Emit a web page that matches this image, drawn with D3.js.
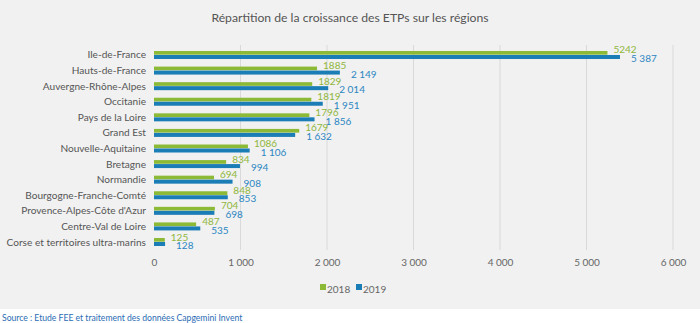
<!DOCTYPE html>
<html><head><meta charset="utf-8">
<script src="https://cdn.jsdelivr.net/npm/d3@7"></script>
<style>
html,body{margin:0;padding:0;background:#fff;}
svg{display:block;}
text{font-family:Lato,"Open Sans",sans-serif;}
</style></head>
<body><svg id="c" width="700" height="323"></svg>
<script>
const categories = ["Ile-de-France","Hauts-de-France","Auvergne-Rhône-Alpes","Occitanie","Pays de la Loire","Grand Est","Nouvelle-Aquitaine","Bretagne","Normandie","Bourgogne-Franche-Comté","Provence-Alpes-Côte d'Azur","Centre-Val de Loire","Corse et territoires ultra-marins"];
const values2018 = [5242,1885,1829,1819,1796,1679,1086,834,694,848,704,487,125];
const values2019 = [5387,2149,2014,1951,1856,1632,1106,994,908,853,698,535,128];
const seriesNames = ["2018","2019"];
const tickValues = [0,1000,2000,3000,4000,5000,6000];
const title = "Répartition de la croissance des ETPs sur les régions";
const source = "Source : Etude FEE et traitement des données Capgemini Invent";

const green = "#8cba36", blue = "#1b7db5", greenTxt = "#8fb63c", blueTxt = "#2b86c2";
const svg = d3.select("#c");
svg.append("rect").attr("width",700).attr("height",309).attr("fill","#f1f1f1");

const x = d3.scaleLinear().domain([0,6000]).range([154,673]);
const y = d3.scaleBand().domain(categories).range([47.2,249.8]).paddingInner(0).paddingOuter(0);
const sub = d3.scaleBand().domain(seriesNames).range([0,8]);
const groupOff = (y.bandwidth()-8)/2;
const fmt = v => d3.format(",")(v).replace(/,/g," ");

svg.append("text").attr("x",350).attr("y",22).attr("text-anchor","middle")
  .attr("font-size",12.2).attr("fill","#555").text(title);

// grid
svg.append("g").selectAll("line").data(tickValues.slice(1)).join("line")
  .attr("x1",d=>x(d)).attr("x2",d=>x(d)).attr("y1",45).attr("y2",250)
  .attr("stroke","#d9d9d9").attr("stroke-width",1);

// axis
const axis = d3.axisBottom(x).tickValues(tickValues).tickFormat(fmt).tickSize(0).tickPadding(0);
const ag = svg.append("g").attr("transform","translate(0,266)").call(axis);
ag.select(".domain").remove();
ag.selectAll("text").attr("font-size",10).attr("fill","#666").attr("font-family","Lato,'Open Sans',sans-serif").attr("dy","0");

// category labels
svg.append("g").selectAll("text").data(categories).join("text")
  .attr("x",146).attr("y",d=>y(d)+y.bandwidth()/2+3.5).attr("text-anchor","end")
  .attr("font-size",10.1).attr("fill","#555").text(d=>d);

const rows = categories.map((c,i)=>({c, v:[values2018[i],values2019[i]]}));
const g = svg.append("g");
rows.forEach(r=>{
  g.append("rect").attr("x",x(0)).attr("y",y(r.c)+groupOff+sub("2018")).attr("width",x(r.v[0])-x(0)).attr("height",sub.bandwidth()-0.3).attr("fill",green);
  g.append("rect").attr("x",x(0)).attr("y",y(r.c)+groupOff+sub("2019")).attr("width",x(r.v[1])-x(0)).attr("height",sub.bandwidth()).attr("fill",blue);
  const cy = y(r.c)+y.bandwidth()/2;
  g.append("text").attr("x",x(r.v[0])+6).attr("y",cy-1.5).attr("font-size",10).attr("fill",greenTxt).text(String(r.v[0]));
  g.append("text").attr("x",x(r.v[1])+11).attr("y",cy+7.2).attr("font-size",10).attr("fill",blueTxt).text(fmt(r.v[1]));
});

// legend
const leg = svg.append("g").attr("transform","translate(320,289)");
[[green,"2018",0],[blue,"2019",36]].forEach(([col,t,dx])=>{
  leg.append("rect").attr("x",dx).attr("y",-5).attr("width",6).attr("height",6).attr("fill",col);
  leg.append("text").attr("x",dx+7).attr("y",3.5).attr("font-size",10).attr("fill","#666").text(t);
});

svg.append("text").attr("x",2).attr("y",321).attr("font-size",8.6).attr("fill","#2a6cb4").text(source);
</script></body></html>
